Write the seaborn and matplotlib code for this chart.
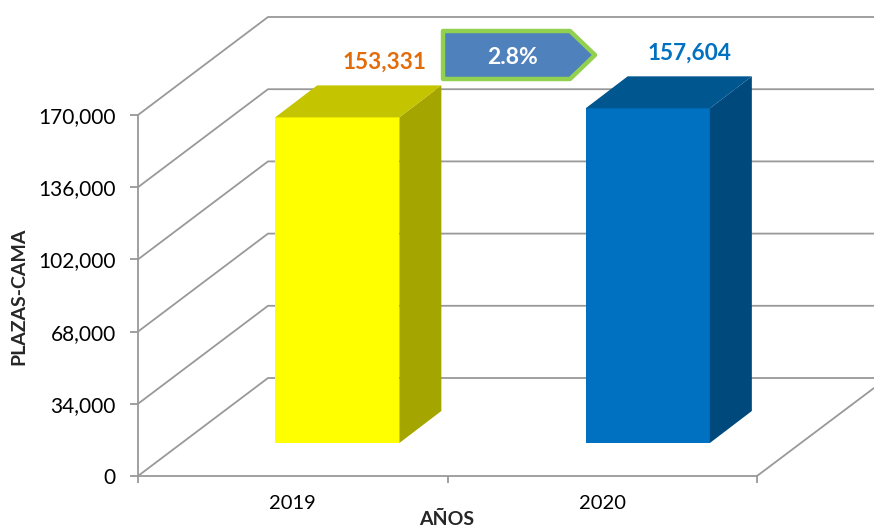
import matplotlib
matplotlib.use('Agg')
import pandas as pd
import seaborn as sns
import matplotlib.pyplot as plt
from matplotlib.patches import Polygon

anios = ['2019', '2020']
plazas = [153331, 157604]
etiquetas = ['153,331', '157,604']
color_frente = ['#FFFF00', '#0070C0']
color_lado = ['#A5A500', '#00497D']
color_tapa = ['#C4C400', '#00568F']
color_texto = ['#E36C0A', '#0070C0']
marcas_y = [0, 34000, 68000, 102000, 136000, 170000]
incremento = '2.8%'

W, H = 874, 531
sns.set_theme(style='white')
plt.rcParams['font.family'] = ['Lato', 'DejaVu Sans']

fig = plt.figure(figsize=(W / 100, H / 100), dpi=100)


def caja(x0, y_top, x1, y_bot):
    return [x0 / W, 1 - y_bot / H, (x1 - x0) / W, (y_bot - y_top) / H]


# plano frontal: ejes y etiquetas
ax = fig.add_axes(caja(138, 115, 757, 476))
ax.set_facecolor('none')
ax.set_xlim(-0.5, 1.5)
ax.set_ylim(0, 170000)

df = pd.DataFrame({'anio': anios, 'plazas': plazas})

# paredes con lineas de rejilla
gris = '#999999'
for m in marcas_y:
    xp, yp = ax.transData.transform((-0.5, m))
    fig.add_artist(plt.Line2D([xp / W, (xp + 130) / W, 874 / W],
                              [yp / H, (yp + 98) / H, (yp + 98) / H],
                              color=gris, lw=1.3, zorder=-1))
# borde del piso
fig.add_artist(plt.Line2D([757 / W, 874 / W], [(H - 476) / H, (H - 388) / H], color=gris, lw=1.3, zorder=-1))

# barras, desplazadas hacia el fondo
ax2 = fig.add_axes(caja(138 + 44, 115 - 33, 757 + 46, 476 - 33))
ax2.patch.set_alpha(0)
sns.barplot(data=df, x='anio', y='plazas', hue='anio', palette=color_frente, legend=False,
            width=0.4, saturation=1, ax=ax2, linewidth=0)
ax2.set_xlim(-0.5, 1.5)
ax2.set_ylim(0, 170000)
ax2.axis('off')

dx_b, dy_b = 42, 32
for i, barra in enumerate(ax2.patches):
    (x0, y0), (x1, y1) = ax2.transData.transform(barra.get_bbox().get_points())
    lado = [(x1, y0), (x1 + dx_b, y0 + dy_b), (x1 + dx_b, y1 + dy_b), (x1, y1)]
    tapa = [(x0, y1), (x1, y1), (x1 + dx_b, y1 + dy_b), (x0 + dx_b, y1 + dy_b)]
    for pts, col in ((lado, color_lado[i]), (tapa, color_tapa[i])):
        fig.add_artist(Polygon([(a / W, b / H) for a, b in pts], closed=True, fc=col, ec='none',
                               transform=fig.transFigure, zorder=2))

# ejes visibles
for s in ['top', 'right']:
    ax.spines[s].set_visible(False)
for s in ['left', 'bottom']:
    ax.spines[s].set_color(gris)
    ax.spines[s].set_linewidth(1.3)
ax.set_yticks(marcas_y)
ax.set_yticklabels([f'{m:,}' for m in marcas_y], fontsize=15, color='black')
ax.set_xticks([-0.5, 0.5, 1.5])
ax.set_xticklabels([])
ax.set_xticks([0, 1], minor=True)
ax.set_xticklabels(anios, minor=True, fontsize=14.5, color='black')
ax.tick_params(axis='y', which='major', length=6, color=gris, width=1.3, left=True, pad=10)
ax.tick_params(axis='x', which='major', length=5, color=gris, width=1.3, bottom=True)
ax.tick_params(axis='x', which='minor', length=0, pad=14)
ax.set_ylabel('PLAZAS-CAMA', fontsize=14, fontweight='bold')
ax.yaxis.set_label_coords((27 - 138) / 619, (476 - 296) / 361)
ax.set_xlabel('AÑOS', fontsize=14, fontweight='bold')
ax.xaxis.set_label_coords((447 - 138) / 619, -(511 - 476) / 361)

# etiquetas de valor
pos_texto = [(384, 62), (690, 53)]
for (xt, yt), txt, col in zip(pos_texto, etiquetas, color_texto):
    fig.text(xt / W, 1 - yt / H, txt, color=col, fontsize=16.3, fontweight='bold', ha='center', va='center')

# flecha de incremento
flecha = [(443, 31), (570, 31), (595, 55), (570, 79), (443, 79)]
fig.add_artist(Polygon([(a / W, 1 - b / H) for a, b in flecha], closed=True, fc='#4F81BD', ec='#92D050',
                       lw=3.2, joinstyle='round', transform=fig.transFigure, zorder=3))
fig.text(512 / W, 1 - 57 / H, incremento, color='white', fontsize=16.5, fontweight='bold', ha='center', va='center',
         zorder=4)

fig.savefig('out.png', dpi=100)
